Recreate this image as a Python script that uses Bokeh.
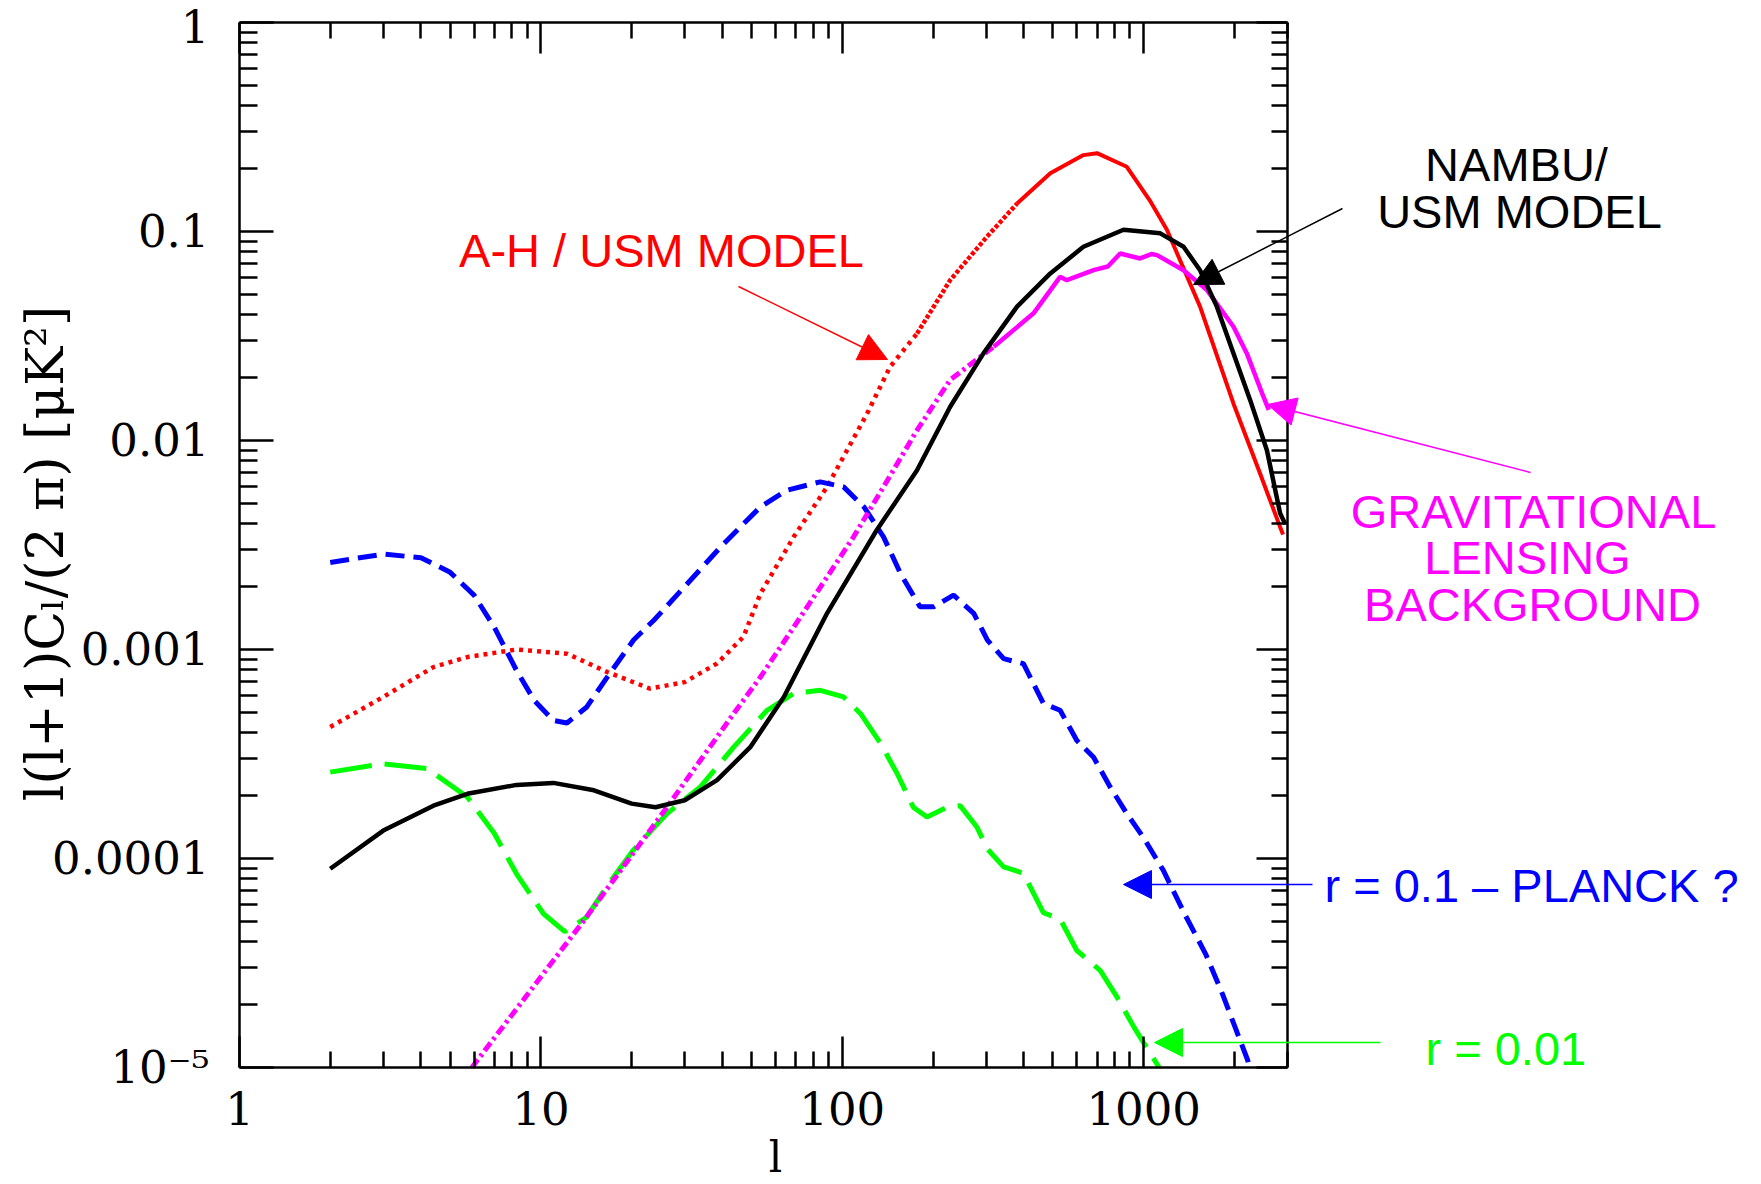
import numpy as np
from bokeh.plotting import figure
from bokeh.models import LogAxis, FixedTicker, Label, Arrow, NormalHead
from bokeh.embed import file_html
from bokeh.resources import INLINE

# ---------------- data ----------------
# A-H / USM model (red dotted)
ell_ah = [2, 3, 4.4, 5.7, 8.3, 12.2, 16.6, 23, 30, 38.4, 47, 53.5, 69, 89, 121, 144, 177, 228,
          302, 380, 490, 631, 700, 879, 1047, 1194, 1538, 1986, 2433, 2836, 2900]
cl_ah = [4.26e-4, 5.93e-4, 8.24e-4, 9.20e-4, 1.00e-3, 9.55e-4, 7.80e-4, 6.50e-4, 6.98e-4, 8.57e-4,
         1.15e-3, 1.85e-3, 3.46e-3, 6.00e-3, 1.35e-2, 2.25e-2, 3.25e-2, 5.85e-2,
         9.44e-2, 0.136, 0.190, 0.232, 0.237, 0.204, 0.141, 0.102, 4.37e-2, 1.50e-2, 6.95e-3, 3.85e-3, 3.55e-3]

# NAMBU / USM model (black solid)
ell_nambu = [2, 3, 4.4, 5.7, 8.3, 11, 15, 20, 24, 30, 38.4, 49.5, 64, 73, 89, 130, 177, 228, 294,
             380, 490, 631, 857, 1135, 1356, 1538, 1749, 1986, 2256, 2563, 2836, 2950]
cl_nambu = [8.93e-5, 1.36e-4, 1.79e-4, 2.04e-4, 2.25e-4, 2.30e-4, 2.12e-4, 1.83e-4, 1.76e-4, 1.90e-4,
            2.37e-4, 3.41e-4, 5.93e-4, 8.57e-4, 1.49e-3, 3.72e-3, 7.21e-3, 1.45e-2, 2.61e-2,
            4.37e-2, 6.30e-2, 8.45e-2, 0.102, 0.098, 8.45e-2, 6.53e-2, 4.37e-2, 2.61e-2, 1.56e-2,
            8.99e-3, 4.48e-3, 3.98e-3]

# Gravitational lensing background (magenta dash-dot)
ell_lens = [5.9, 13.9, 26.2, 43.6, 53.5, 69, 89, 109, 137, 177, 228, 318, 431, 528, 556, 682,
            760, 836, 973, 1060, 1107, 1356, 1622, 1986, 2199, 2496, 2600]
cl_lens = [1.0e-5, 5.06e-5, 1.76e-4, 4.93e-4, 7.38e-4, 1.28e-3, 2.22e-3, 3.46e-3, 6.00e-3, 1.12e-2,
           1.95e-2, 2.81e-2, 4.06e-2, 6.07e-2, 5.85e-2, 6.53e-2, 6.80e-2, 7.85e-2, 7.43e-2, 7.80e-2,
           7.71e-2, 6.53e-2, 5.24e-2, 3.50e-2, 2.61e-2, 1.62e-2, 1.40e-2]

# r = 0.1 tensor B-modes (blue dashed)
ell_r01 = [2, 3, 4, 5, 6, 7, 8.3, 9.5, 11, 12.2, 14.2, 16.6, 20.3, 23.7, 30, 40, 53.5, 65.5, 84.5,
           101, 118, 137, 156, 181, 201, 234, 273, 303, 343, 399, 465, 528, 600, 682, 774, 879,
           998, 1162, 1366, 1604, 1825, 2010, 2215, 2240]
cl_r01 = [2.61e-3, 2.86e-3, 2.75e-3, 2.34e-3, 1.82e-3, 1.28e-3, 7.94e-4, 5.71e-4, 4.58e-4, 4.45e-4,
          5.31e-4, 7.38e-4, 1.11e-3, 1.38e-3, 2.00e-3, 3.16e-3, 4.81e-3, 5.78e-3, 6.34e-3,
          6.00e-3, 4.81e-3, 3.46e-3, 2.31e-3, 1.60e-3, 1.60e-3, 1.82e-3, 1.49e-3, 1.11e-3,
          9.04e-4, 8.55e-4, 5.51e-4, 5.12e-4, 3.67e-4, 3.05e-4, 2.20e-4, 1.64e-4,
          1.26e-4, 8.77e-5, 5.44e-5, 3.50e-5, 2.25e-5, 1.56e-5, 1.08e-5, 1.0e-5]

# r = 0.01 tensor B-modes (green long dashed)
ell_r001 = [2, 3, 4.2, 5.7, 7, 8.3, 10.2, 12, 14.2, 16.6, 20.3, 26.2, 33.8, 43.6, 56.3, 68.9, 84.5,
            101, 115, 134, 152, 172, 191, 223, 246, 280, 303, 343, 399, 465, 528, 600, 718, 816,
            928, 1125]
cl_r001 = [2.59e-4, 2.84e-4, 2.69e-4, 1.97e-4, 1.32e-4, 8.45e-5, 5.44e-5, 4.47e-5, 5.25e-5, 7.41e-5,
           1.10e-4, 1.64e-4, 2.20e-4, 3.41e-4, 5.12e-4, 6.15e-4, 6.38e-4, 5.93e-4, 4.93e-4,
           3.55e-4, 2.55e-4, 1.76e-4, 1.58e-4, 1.76e-4, 1.79e-4, 1.41e-4, 1.11e-4, 9.12e-5,
           8.51e-5, 5.50e-5, 5.13e-5, 3.63e-5, 2.91e-5, 2.17e-5, 1.56e-5, 1.0e-5]

x_major = [1, 10, 100, 1000]
x_labels = ["1", "10", "100", "1000"]
y_major = [1e-5, 1e-4, 1e-3, 1e-2, 1e-1, 1]
y_labels = ["10⁻⁵", "0.0001", "0.001", "0.01", "0.1", "1"]

x_title = "l"
y_title = "l(l+1)Cₗ/(2 π) [μK²]"

# ---------------- layout ----------------
W, H = 1761, 1184
# pixel box of the data area (axes box) inside the canvas
BOX_L, BOX_R, BOX_T, BOX_B = 239, 1287, 22, 1067
X_MIN, X_MAX = 1, 3000
Y_MIN, Y_MAX = 1e-5, 1


def dx(px):
    lo, hi = np.log10(X_MIN), np.log10(X_MAX)
    return 10 ** (lo + (hi - lo) * (px - BOX_L) / (BOX_R - BOX_L))


def dy(py):
    lo, hi = np.log10(Y_MIN), np.log10(Y_MAX)
    return 10 ** (hi - (hi - lo) * (py - BOX_T) / (BOX_B - BOX_T))


# the frame covers the whole canvas; axes are pinned to the box with fixed_location
p = figure(width=W, height=H, x_axis_type="log", y_axis_type="log",
           x_range=(dx(0), dx(W)), y_range=(dy(H), dy(0)),
           output_backend="svg", toolbar_location=None,
           min_border=0, min_border_left=0, min_border_right=0,
           min_border_top=0, min_border_bottom=0)
p.grid.visible = False
p.outline_line_color = None
p.background_fill_color = "white"
p.border_fill_color = "white"

x_minor = [m * 10 ** e for e in range(0, 4) for m in range(2, 10) if m * 10 ** e <= X_MAX]
y_minor = [m * 10.0 ** e for e in range(-5, 0) for m in range(2, 10)]

TICK_FONT = "DejaVu Serif"


def style_axis(ax, ticks, minor, labels, major_len, minor_len, show_labels, loc, bounds):
    ax.fixed_location = loc
    ax.bounds = bounds
    ax.ticker = FixedTicker(ticks=ticks, minor_ticks=minor)
    ax.axis_line_width = 2.5
    ax.axis_line_color = "black"
    ax.major_tick_line_width = 2.5
    ax.minor_tick_line_width = 2.5
    ax.major_tick_in = major_len
    ax.major_tick_out = 0
    ax.minor_tick_in = minor_len
    ax.minor_tick_out = 0
    if show_labels:
        ax.major_label_overrides = {t: s for t, s in zip(ticks, labels)}
        ax.major_label_text_font = TICK_FONT
        ax.major_label_text_font_size = "45px"
        ax.major_label_text_color = "black"
    else:
        ax.major_label_text_font_size = "2px"
        ax.major_label_text_color = None
        ax.major_label_standoff = 0


xb = p.xaxis[0]
yl = p.yaxis[0]
style_axis(xb, x_major, x_minor, x_labels, 31, 16, True, Y_MIN, (X_MIN, X_MAX))
xb.major_label_standoff = 24
style_axis(yl, y_major, y_minor, y_labels, 34, 18, True, X_MIN, (Y_MIN, Y_MAX))
yl.major_label_standoff = 30
yl.major_label_orientation = "horizontal"

xt = LogAxis()
style_axis(xt, x_major, x_minor, x_labels, 31, 16, False, Y_MAX, (X_MIN, X_MAX))
p.add_layout(xt, "above")
yr = LogAxis()
style_axis(yr, y_major, y_minor, y_labels, 31, 16, False, X_MAX, (Y_MIN, Y_MAX))
p.add_layout(yr, "right")

# ---------------- curves ----------------
ea, ca = np.array(ell_ah), np.array(cl_ah)
m1 = ea <= 177
m2 = (ea >= 177) & (ea <= 380)
m3 = ea >= 380
p.line(ea[m1], ca[m1], line_color="#ff0000", line_width=4.5, line_dash="4 5")
p.line(ea[m2], ca[m2], line_color="#ff0000", line_width=4.5, line_dash="4 2")
p.line(ea[m3], ca[m3], line_color="#ff0000", line_width=4)

p.line(ell_r01, cl_r01, line_color="#0000ff", line_width=5, line_dash="19 9")
p.line(ell_r001, cl_r001, line_color="#00ff00", line_width=5, line_dash="42 13")

el, cg = np.array(ell_lens), np.array(cl_lens)
k1 = el <= 318
k2 = el >= 318
p.line(el[k1], cg[k1], line_color="#ff00ff", line_width=5, line_dash="10 4 3 4")
p.line(el[k2], cg[k2], line_color="#ff00ff", line_width=4.5)

p.line(ell_nambu, cl_nambu, line_color="black", line_width=4.5)

# ---------------- axis titles ----------------
p.add_layout(Label(x=dx(775), y=dy(1181), text=x_title, text_font=TICK_FONT,
                   text_font_size="42px", text_align="center", text_baseline="bottom",
                   text_color="black"))
p.add_layout(Label(x=dx(44), y=dy(553), text=y_title, text_font=TICK_FONT,
                   text_font_size="52px", text_align="center", text_baseline="middle",
                   angle=np.pi / 2, text_color="black"))

# ---------------- annotations ----------------
ANN_FONT = "Liberation Sans"
ANN_SIZE = "47px"


def add_text(px, py, txt, color, align="center"):
    p.add_layout(Label(x=dx(px), y=dy(py), text=txt, text_font=ANN_FONT,
                       text_font_size=ANN_SIZE, text_align=align,
                       text_baseline="middle", text_color=color))


def add_arrow(x0, y0, x1, y1, color):
    p.add_layout(Arrow(end=NormalHead(size=28, fill_color=color, line_color=color, line_width=1),
                       x_start=dx(x0), y_start=dy(y0), x_end=dx(x1), y_end=dy(y1),
                       line_color=color, line_width=1.5))


add_text(661, 250, "A-H / USM MODEL", "#ff0000")
add_arrow(738, 286, 887, 359, "#ff0000")

add_text(1516, 164, "NAMBU/", "black")
add_text(1519, 211, "USM MODEL", "black")
add_arrow(1342, 208, 1193, 284, "black")

add_text(1533, 511, "GRAVITATIONAL", "#ff00ff")
add_text(1527, 557, "LENSING", "#ff00ff")
add_text(1532, 604, "BACKGROUND", "#ff00ff")
add_arrow(1530, 472, 1267, 404, "#ff00ff")

add_text(1324, 885, "r = 0.1 – PLANCK ?", "#0000ff", align="left")
add_arrow(1312, 884, 1123, 884, "#0000ff")

add_text(1425, 1048, "r = 0.01", "#00ff00", align="left")
add_arrow(1380, 1042, 1154, 1042, "#00ff00")

open("out.html", "w").write(file_html(p, INLINE))
